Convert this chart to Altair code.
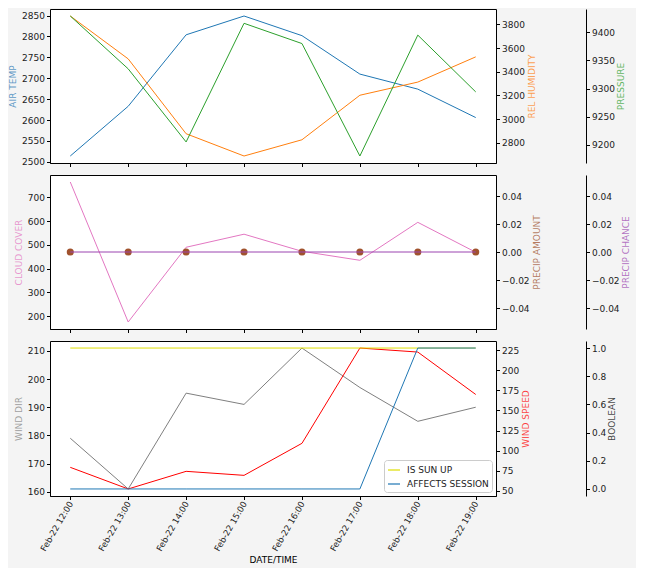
import altair as alt
import pandas as pd

# ---- data ----
times = ["2022-02-22T12:00:00", "2022-02-22T13:00:00", "2022-02-22T14:00:00",
         "2022-02-22T15:00:00", "2022-02-22T16:00:00", "2022-02-22T17:00:00",
         "2022-02-22T18:00:00", "2022-02-22T19:00:00"]
hours = [12, 13, 14, 15, 16, 17, 18, 19]
air_temp = [2514, 2633, 2804, 2849, 2802, 2710, 2674, 2606]
rel_humidity = [3871, 3509, 2877, 2689, 2826, 3202, 3313, 3526]
pressure = [9429, 9335, 9205, 9416, 9380, 9180, 9395, 9294]
cloud_cover = [765, 175, 490, 545, 473, 435, 595, 469]
precip_amount = [0, 0, 0, 0, 0, 0, 0, 0]
precip_chance = [0, 0, 0, 0, 0, 0, 0, 0]
wind_dir = [179, 161, 195, 191, 211, 197, 185, 190]
wind_speed = [79, 52, 74, 69, 109, 228, 223, 170]
is_sun_up = [1, 1, 1, 1, 1, 1, 1, 1]
affects_session = [0, 0, 0, 0, 0, 0, 1, 1]

ticks_air = [2500, 2550, 2600, 2650, 2700, 2750, 2800, 2850]
ticks_hum = [2800, 3000, 3200, 3400, 3600, 3800]
ticks_pres = [9200, 9250, 9300, 9350, 9400]
ticks_cloud = [200, 300, 400, 500, 600, 700]
ticks_precip = [-0.04, -0.02, 0.0, 0.02, 0.04]
ticks_wdir = [160, 170, 180, 190, 200, 210]
ticks_wspd = [50, 75, 100, 125, 150, 175, 200, 225]
ticks_bool = [0.0, 0.2, 0.4, 0.6, 0.8, 1.0]

df = pd.DataFrame({
    "time": times,
    "AIR TEMP": air_temp, "REL HUMIDITY": rel_humidity, "PRESSURE": pressure,
    "CLOUD COVER": cloud_cover, "PRECIP AMOUNT": precip_amount,
    "PRECIP CHANCE": precip_chance, "WIND DIR": wind_dir,
    "WIND SPEED": wind_speed,
})
bool_df = pd.DataFrame({
    "time": times * 2,
    "value": is_sun_up + affects_session,
    "series": ["IS SUN UP"] * len(times) + ["AFFECTS SESSION"] * len(times),
})

W = 446
FONT = "DejaVu Sans"


def pad_domain(vals, lo=None, hi=None):
    a = min(vals) if lo is None else lo
    b = max(vals) if hi is None else hi
    m = (b - a) * 0.05
    return [a - m, b + m]


x_domain = [alt.DateTime(year=2022, month=2, date=22, hours=11, minutes=39),
            alt.DateTime(year=2022, month=2, date=22, hours=19, minutes=21)]
x_ticks = [alt.DateTime(year=2022, month=2, date=22, hours=h) for h in hours]


def xenc(bottom):
    if bottom:
        ax = alt.Axis(title="DATE/TIME", format="%b-%d %H:%M", labelAngle=300,
                      labelAlign="right", labelBaseline="middle", labelFontSize=8.5,
                      values=x_ticks, grid=False,
                      labelPadding=2, titlePadding=3)
    else:
        ax = alt.Axis(title=None, labels=False, grid=False, values=x_ticks)
    return alt.X("time:T", scale=alt.Scale(domain=x_domain, nice=False), axis=ax)


def yaxis(title, color, ticks, pos, fmt="d"):
    kw = dict(title=title, titleColor=color, values=ticks, grid=False,
              titleOpacity=0.75, format=fmt)
    if pos == "left":
        kw.update(orient="left", domain=False)
    elif pos == "right":
        kw.update(orient="right", domain=False, titleAngle=270, titleBaseline="top",
                  titlePadding=3)
    else:
        kw.update(orient="right", offset=90, domain=True, titleAngle=270,
                  titleBaseline="top", titlePadding=2)
    return alt.Axis(**kw)


def line_layer(field, color, ticks, pos, domain, bottom, fmt="d"):
    return alt.Chart(df).mark_line(color=color, strokeWidth=1).encode(
        x=xenc(bottom),
        y=alt.Y(f"{field}:Q", scale=alt.Scale(domain=domain, nice=False, zero=False),
                axis=yaxis(field, color, ticks, pos, fmt)),
    )


# ---- panel 1 ----
p1 = alt.layer(
    line_layer("AIR TEMP", "#1f77b4", ticks_air, "left", pad_domain(air_temp), False),
    line_layer("REL HUMIDITY", "#ff7f0e", ticks_hum, "right", pad_domain(rel_humidity), False),
    line_layer("PRESSURE", "#2ca02c", ticks_pres, "third", pad_domain(pressure), False),
).resolve_scale(y="independent").properties(width=W, height=154)

# ---- panel 2 ----
prec_dom = [-0.055, 0.055]
p2 = alt.layer(
    line_layer("CLOUD COVER", "#e377c2", ticks_cloud, "left", pad_domain(cloud_cover), False),
    alt.Chart(df).mark_circle(color="#a0522d", size=50, opacity=1).encode(
        x=xenc(False),
        y=alt.Y("PRECIP AMOUNT:Q", scale=alt.Scale(domain=prec_dom, nice=False, zero=False),
                axis=yaxis("PRECIP AMOUNT", "#a0522d", ticks_precip, "right", ".2f")),
    ),
    line_layer("PRECIP CHANCE", "#9b45b0", ticks_precip, "third", prec_dom, False, ".2f"),
).resolve_scale(y="independent").properties(width=W, height=154)

# ---- panel 3 ----
bool_layer = alt.Chart(bool_df).mark_line(strokeWidth=1).encode(
    x=xenc(True),
    y=alt.Y("value:Q", scale=alt.Scale(domain=pad_domain([0, 1]), nice=False, zero=False),
            axis=yaxis("BOOLEAN", "#000000", ticks_bool, "third", ".1f")),
    color=alt.Color("series:N",
                    scale=alt.Scale(domain=["IS SUN UP", "AFFECTS SESSION"],
                                    range=["#dede00", "#1f77b4"]),
                    legend=alt.Legend(title=None, orient="bottom-right", offset=4)),
)
p3 = alt.layer(
    line_layer("WIND DIR", "#7f7f7f", ticks_wdir, "left", pad_domain(wind_dir), True),
    line_layer("WIND SPEED", "#ff0000", ticks_wspd, "right", pad_domain(wind_speed), True),
    bool_layer,
).resolve_scale(y="independent").properties(width=W, height=155)

chart = alt.vconcat(p1, p2, p3, spacing=6).resolve_scale(
    color="independent"
).properties(
    background="#f4f4f4",
    padding={"left": 0, "top": 0, "right": 5, "bottom": 3},
).configure_view(
    fill="white", stroke="black", strokeWidth=1,
).configure_axis(
    labelFont=FONT, labelFontSize=9, labelColor="#222222",
    titleFont=FONT, titleFontSize=9, titleFontWeight="normal",
    tickSize=3.5, tickColor="black", domainColor="black",
    labelPadding=2, titlePadding=4,
).configure_legend(
    labelFont=FONT, labelFontSize=9, labelColor="#222222",
    symbolType="stroke", symbolStrokeWidth=1.2, symbolSize=144,
    fillColor="white", strokeColor="#cccccc", padding=3, cornerRadius=3,
    rowPadding=2, labelOffset=6,
)

chart.save("out.html", embed_options={"renderer": "svg", "actions": False})
